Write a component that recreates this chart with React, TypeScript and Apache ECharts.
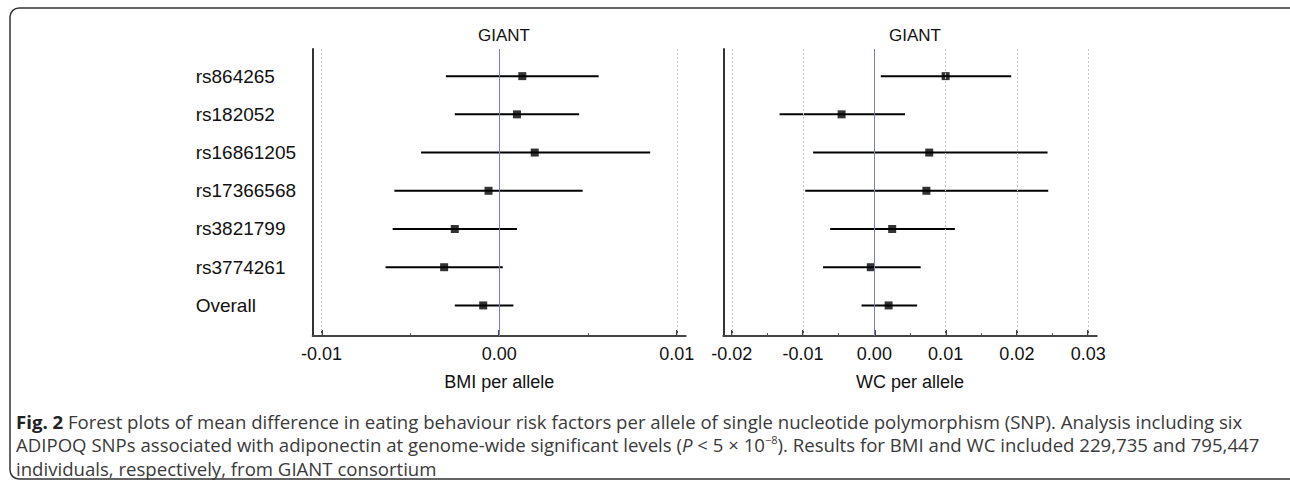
import React, { useEffect, useRef } from 'react';
import * as echarts from 'echarts';

const snps = ['rs864265', 'rs182052', 'rs16861205', 'rs17366568', 'rs3821799', 'rs3774261', 'Overall'];

const bmiMean = [0.0013, 0.001, 0.002, -0.0006, -0.0025, -0.0031, -0.0009];
const bmiLower = [-0.003, -0.0025, -0.0044, -0.0059, -0.006, -0.0064, -0.0025];
const bmiUpper = [0.0056, 0.0045, 0.0085, 0.0047, 0.001, 0.0002, 0.0008];

const wcMean = [0.01, -0.0046, 0.0077, 0.0073, 0.0025, -0.0005, 0.002];
const wcLower = [0.0009, -0.0133, -0.0086, -0.0097, -0.0062, -0.0072, -0.0018];
const wcUpper = [0.0192, 0.0043, 0.0243, 0.0244, 0.0113, 0.0065, 0.006];

const bmiTicks = [-0.01, 0, 0.01];
const bmiMinorTicks = [-0.005, 0.005];
const wcTicks = [-0.02, -0.01, 0, 0.01, 0.02, 0.03];
const wcMinorTicks = [-0.015, -0.005, 0.005, 0.015, 0.025];

const panelTitles = ['GIANT', 'GIANT'];
const axisNames = ['BMI per allele', 'WC per allele'];

const captionLines = [
  '{b|Fig. 2} Forest plots of mean difference in eating behaviour risk factors per allele of single nucleotide polymorphism (SNP). Analysis including six',
  'ADIPOQ SNPs associated with adiponectin at genome-wide significant levels ({i|P} < 5 × 10{s|−8}). Results for BMI and WC included 229,735 and 795,447',
  'individuals, respectively, from GIANT consortium',
];

const FONT = '"Liberation Sans", Arial, Helvetica, sans-serif';
const CAP_FONT = '"Open Sans", "Noto Sans", sans-serif';
const CAP_SIZE = 18.6;

export default function App() {
  const ref = useRef<HTMLDivElement>(null);

  useEffect(() => {
    const chart = echarts.init(ref.current!, null, { renderer: 'svg' });
    const rowIdx = snps.map((_, i) => i);

    const grids = [
      { left: 312.7, top: 49, width: 373, height: 287 },
      { left: 723.3, top: 49, width: 373.4, height: 287 },
    ];
    const ranges = [
      [-0.0105, 0.0105],
      [-0.0212, 0.0312],
    ];
    const majors = [bmiTicks, wcTicks];
    const minors = [bmiMinorTicks, wcMinorTicks];
    const means = [bmiMean, wcMean];
    const lowers = [bmiLower, wcLower];
    const uppers = [bmiUpper, wcUpper];

    const xAxis: any[] = [];
    const yAxis: any[] = [];
    const series: any[] = [];

    [0, 1].forEach((g) => {
      xAxis.push({
        type: 'value',
        gridIndex: g,
        min: ranges[g][0],
        max: ranges[g][1],
        position: 'bottom',
        name: axisNames[g],
        nameLocation: 'middle',
        nameGap: 37,
        nameTextStyle: { fontSize: 18, color: '#111', fontFamily: FONT },
        axisLine: { show: true, onZero: false, lineStyle: { color: '#444', width: 2 } },
        axisTick: { show: true, inside: true, length: 6, customValues: majors[g], lineStyle: { color: '#444', width: 2 } },
        axisLabel: {
          show: true,
          customValues: majors[g],
          formatter: (v: number) => v.toFixed(2),
          margin: 9,
          fontSize: 18,
          color: '#111',
          fontFamily: FONT,
        },
        splitLine: { show: false },
      });
    });
    [0, 1].forEach((g) => {
      xAxis.push({
        type: 'value',
        gridIndex: g,
        min: ranges[g][0],
        max: ranges[g][1],
        position: 'bottom',
        axisLine: { show: false, onZero: false },
        axisTick: { show: true, inside: true, length: 3, customValues: minors[g], lineStyle: { color: '#555', width: 1 } },
        axisLabel: { show: false },
        splitLine: { show: false },
      });
    });

    [0, 1].forEach((g) => {
      yAxis.push({
        type: 'value',
        gridIndex: g,
        min: -0.71,
        max: 6.8,
        inverse: true,
        axisLine: { show: true, onZero: false, lineStyle: { color: '#333', width: 2 } },
        axisTick: { show: false },
        splitLine: { show: false },
        axisLabel:
          g === 0
            ? {
                show: true,
                customValues: rowIdx,
                formatter: (v: number) => snps[Math.round(v)] ?? '',
                align: 'left',
                margin: 117,
                fontSize: 19,
                color: '#111',
                fontFamily: FONT,
              }
            : { show: false },
      });

      // reference lines (grid + zero)
      series.push({
        type: 'scatter',
        xAxisIndex: g,
        yAxisIndex: g,
        data: [],
        z: 1,
        markLine: {
          silent: true,
          symbol: 'none',
          label: { show: false },
          data: majors[g].map((t) => ({
            xAxis: t,
            lineStyle:
              t === 0
                ? { color: '#7c7cc4', type: 'solid', width: 1 }
                : { color: '#c4c4c4', type: [2, 2], width: 1 },
          })),
        },
      });

      // confidence intervals
      series.push({
        type: 'custom',
        xAxisIndex: g,
        yAxisIndex: g,
        z: 3,
        data: rowIdx.map((i) => [lowers[g][i], uppers[g][i], i]),
        encode: { x: [0, 1], y: 2 },
        renderItem: (params: any, api: any) => {
          const a = api.coord([api.value(0), api.value(2)]);
          const b = api.coord([api.value(1), api.value(2)]);
          return {
            type: 'line',
            shape: { x1: a[0], y1: a[1], x2: b[0], y2: b[1] },
            style: { stroke: '#000', lineWidth: 2 },
          };
        },
      });

      // point estimates
      series.push({
        type: 'scatter',
        xAxisIndex: g,
        yAxisIndex: g,
        z: 4,
        symbol: 'rect',
        symbolSize: 8,
        itemStyle: { color: '#000' },
        data: rowIdx.map((i) => [means[g][i], i]),
      });
    });

    const caption = captionLines.map((t, k) => ({
      type: 'text',
      x: 16,
      y: 421 + k * 23.5,
      style: {
        text: t,
        x: 0,
        y: 0,
        fill: '#3a3a3a',
        fontSize: CAP_SIZE,
        fontFamily: CAP_FONT,
        verticalAlign: 'middle',
        textVerticalAlign: 'middle',
        rich: {
          b: { fontWeight: 'bold', fontSize: CAP_SIZE, fontFamily: CAP_FONT, fill: '#222' },
          i: { fontStyle: 'italic', fontSize: CAP_SIZE, fontFamily: CAP_FONT, fill: '#3a3a3a' },
          s: { fontSize: 11, fontFamily: CAP_FONT, fill: '#3a3a3a', padding: [0, 0, 10, 0] },
        },
      },
    }));

    chart.setOption({
      animation: false,
      backgroundColor: '#fff',
      title: [
        {
          text: panelTitles[0],
          left: 499,
          top: 22,
          textAlign: 'center',
          textStyle: { fontSize: 17, fontWeight: 'normal', color: '#111', fontFamily: FONT },
        },
        {
          text: panelTitles[1],
          left: 910,
          top: 22,
          textAlign: 'center',
          textStyle: { fontSize: 17, fontWeight: 'normal', color: '#111', fontFamily: FONT },
        },
      ],
      grid: grids,
      xAxis,
      yAxis,
      series,
      graphic: [
        {
          type: 'rect',
          shape: { x: 10, y: 8, width: 1290, height: 471, r: 9 },
          style: { fill: 'none', stroke: '#333', lineWidth: 1.5 },
          silent: true,
        },
        ...caption,
      ],
    });

    return () => chart.dispose();
  }, []);

  return (
    <div
      ref={ref}
      style={{ position: 'absolute', left: 0, top: 0, width: 1290, height: 487 }}
    />
  );
}
